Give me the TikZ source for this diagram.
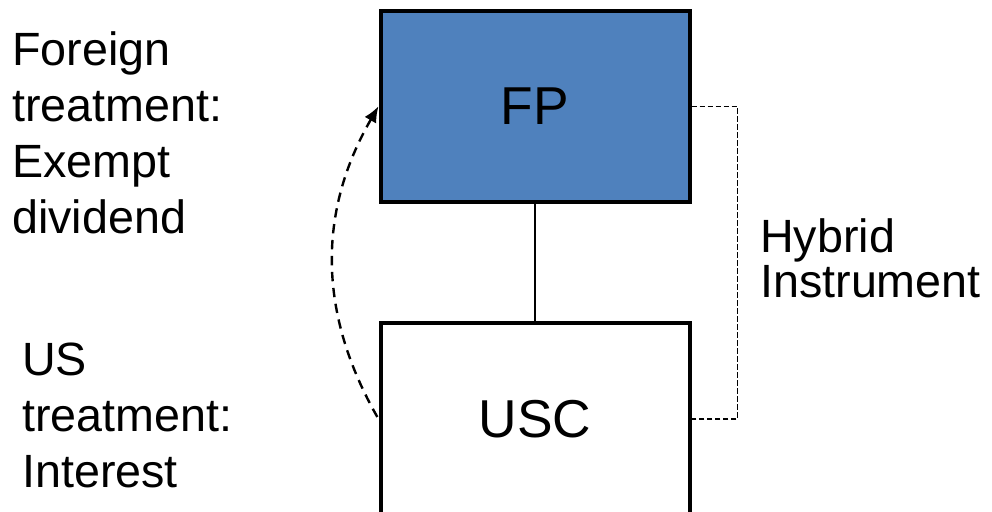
\documentclass[tikz,border=0pt]{standalone}
\usepackage{fontspec}
\setmainfont{Liberation Sans}
\usetikzlibrary{arrows.meta}
\definecolor{fpblue}{RGB}{79,129,189}

\begin{document}
\begin{tikzpicture}[>=Latex,x=0.75pt,y=-0.75pt,
    entity/.style={draw=black,line width=3pt,minimum width=231.75pt,minimum height=143.6pt,inner sep=0pt,font=\fontsize{40}{48}\selectfont},
    label/.style={inner sep=0pt,align=left,anchor=base west},
    bracket/.style={line width=1pt,dash pattern=on 4pt off 2pt},
    flow/.style={line width=1.8pt,dash pattern=on 7pt off 5pt}]
  \clip (0,0) rectangle (992,511);
  % holding structure: foreign parent over US corporation
  \node[entity,fill=fpblue] (fp) at (535,106.25) {FP};
  \node[entity,fill=white] (usc) at (535,419) {USC};
  \draw[line width=1pt] (fp) -- (usc);
  % hybrid instrument between the two
  \draw[bracket] (fp.east) -- ++(46,0) coordinate (hyb) |- (usc.east);
  \draw[flow,{Latex[length=12pt,width=10pt]}-] (fp.west) to[bend right=30] (usc.west);
  % treatment labels (anchored at last baseline)
  \node[label,font=\fontsize{35}{42}\selectfont] (fortext) at (12,233) {Foreign\\treatment:\\Exempt\\dividend};
  \node[label,font=\fontsize{35}{42}\selectfont] (ustext) at (22,487) {US\\treatment:\\Interest};
  \node[label,font=\fontsize{35}{33.75}\selectfont] (hybtext) at (760,297) {Hybrid\\Instrument};
\end{tikzpicture}
\end{document}
